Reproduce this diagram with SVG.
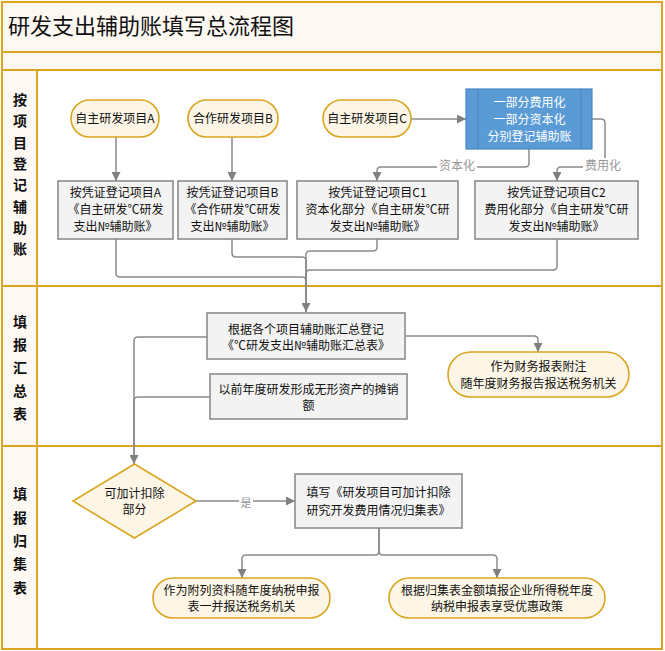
<svg xmlns="http://www.w3.org/2000/svg" width="665" height="651" viewBox="0 0 665 651">
<style>
  .frame{fill:none;stroke:#daa520;stroke-width:2}
  .cream{fill:#fdf8f2}
  .box{fill:#f3f3f3;stroke:#8c8c8c;stroke-width:1.6}
  .pill{fill:#fdf6e6;stroke:#daa520;stroke-width:1.6}
  .blue{fill:#5b9bd5;stroke:#4a86c5;stroke-width:1.2}
  .t{font-family:"Noto Sans CJK SC","Liberation Sans",sans-serif;font-size:12px;fill:#111;text-anchor:middle}
  .tw{font-family:"Noto Sans CJK SC","Liberation Sans",sans-serif;font-size:12px;fill:#fff;text-anchor:middle}
  .lane{font-family:"Noto Sans CJK SC","Liberation Sans",sans-serif;font-size:14px;font-weight:bold;fill:#111;text-anchor:middle}
  .title{font-family:"Noto Sans CJK SC","Liberation Sans",sans-serif;font-size:22px;fill:#111}
  .lbl{font-family:"Noto Sans CJK SC","Liberation Sans",sans-serif;font-size:12px;fill:#999;text-anchor:middle}
  .c{fill:none;stroke:#8a8a8a;stroke-width:1.5}
</style>
<defs>
  <marker id="arr" viewBox="0 0 10 10" refX="10" refY="5" markerWidth="9" markerHeight="9" markerUnits="userSpaceOnUse" orient="auto">
    <path d="M0,0 L10,5 L0,10 z" fill="#808080"/>
  </marker>
</defs>

<!-- background / swimlanes -->
<g id="lanes">
  <rect x="0" y="0" width="665" height="651" fill="#fff"/>
  <rect class="cream" x="2" y="2" width="660" height="68"/>
  <rect class="cream" x="2" y="70" width="35" height="579"/>
  <rect class="frame" x="2" y="2" width="660" height="647"/>
  <line class="frame" x1="2" y1="52" x2="662" y2="52"/>
  <line class="frame" x1="2" y1="70" x2="662" y2="70"/>
  <line class="frame" x1="2" y1="286" x2="662" y2="286"/>
  <line class="frame" x1="2" y1="446" x2="662" y2="446"/>
  <line class="frame" x1="37" y1="70" x2="37" y2="649"/>
  <text class="title" x="8" y="34">研发支出辅助账填写总流程图</text>
  <text class="lane" x="20"><tspan x="20" y="105">按</tspan><tspan x="20" y="126.3">项</tspan><tspan x="20" y="147.6">目</tspan><tspan x="20" y="168.9">登</tspan><tspan x="20" y="190.2">记</tspan><tspan x="20" y="211.5">辅</tspan><tspan x="20" y="232.8">助</tspan><tspan x="20" y="254.1">账</tspan></text>
  <text class="lane" x="20"><tspan x="20" y="327">填</tspan><tspan x="20" y="350">报</tspan><tspan x="20" y="373">汇</tspan><tspan x="20" y="396">总</tspan><tspan x="20" y="419">表</tspan></text>
  <text class="lane" x="20"><tspan x="20" y="499">填</tspan><tspan x="20" y="523">报</tspan><tspan x="20" y="546">归</tspan><tspan x="20" y="569">集</tspan><tspan x="20" y="593">表</tspan></text>
</g>

<!-- connectors -->
<g id="connectors">
  <path class="c" d="M116,137 V181" marker-end="url(#arr)"/>
  <path class="c" d="M232,137 V181" marker-end="url(#arr)"/>
  <path class="c" d="M411,119 H466" marker-end="url(#arr)"/>
  <path class="c" d="M529,149 V163 Q529,167 525,167 H381 Q377,167 377,171 V181" marker-end="url(#arr)"/>
  <path class="c" d="M592,119 H601 Q605,119 605,123 V163 Q605,167 601,167 H561 Q557,167 557,171 V181" marker-end="url(#arr)"/>
  <rect x="437" y="158" width="40" height="16" fill="#fff"/>
  <text class="lbl" x="457" y="170">资本化</text>
  <rect x="583" y="158" width="40" height="16" fill="#fff"/>
  <text class="lbl" x="603" y="170">费用化</text>
  <path class="c" d="M116,239 V273 Q116,277 120,277 H302 Q306,277 306,281 V312"/>
  <path class="c" d="M232,239 V253 Q232,257 236,257 H302 Q306,257 306,261 V312"/>
  <path class="c" d="M557,239 V266 Q557,270 553,270 H310 Q306,270 306,274 V312"/>
  <path class="c" d="M377,239 V247 Q377,251 373,251 H310 Q306,251 306,255 V312" marker-end="url(#arr)"/>
  <path class="c" d="M405,336 H534 Q538,336 538,340 V352" marker-end="url(#arr)"/>
  <path class="c" d="M207,337 H138 Q134,337 134,341 V464"/>
  <path class="c" d="M210,397 H138 Q134,397 134,401 V464" marker-end="url(#arr)"/>
  <path class="c" d="M196,501 H295" marker-end="url(#arr)"/>
  <rect x="239" y="495" width="14" height="14" fill="#fff"/>
  <text class="lbl" x="246" y="507" style="font-size:11px">是</text>
  <path class="c" d="M379,528 V551 Q379,555 375,555 H246 Q242,555 242,559 V578" marker-end="url(#arr)"/>
  <path class="c" d="M379,528 V551 Q379,555 383,555 H493 Q497,555 497,559 V578" marker-end="url(#arr)"/>
</g>

<!-- nodes -->
<g id="start-a">
  <rect class="pill" x="71" y="100" width="88" height="37" rx="18.5"/>
  <text class="t" x="115" y="123">自主研发项目A</text>
</g>
<g id="start-b">
  <rect class="pill" x="188" y="100" width="90" height="37" rx="18.5"/>
  <text class="t" x="233" y="123">合作研发项目B</text>
</g>
<g id="start-c">
  <rect class="pill" x="323" y="100" width="88" height="37" rx="18.5"/>
  <text class="t" x="367" y="123">自主研发项目C</text>
</g>
<g id="split-c">
  <rect class="blue" x="466" y="89" width="126" height="60"/>
  <line x1="478" y1="89" x2="478" y2="149" stroke="#4a86c5" stroke-width="1.2"/>
  <line x1="581" y1="89" x2="581" y2="149" stroke="#4a86c5" stroke-width="1.2"/>
  <text class="tw" x="529.5" y="107">一部分费用化</text>
  <text class="tw" x="529.5" y="124">一部分资本化</text>
  <text class="tw" x="529.5" y="141">分别登记辅助账</text>
</g>
<g id="box-a">
  <rect class="box" x="58" y="181" width="115" height="58"/>
  <text class="t" x="115.5" y="197">按凭证登记项目A</text>
  <text class="t" x="115.5" y="214">《自主研发℃研发</text>
  <text class="t" x="115.5" y="231">支出№辅助账》</text>
</g>
<g id="box-b">
  <rect class="box" x="178" y="181" width="109" height="58"/>
  <text class="t" x="232.5" y="197">按凭证登记项目B</text>
  <text class="t" x="232.5" y="214">《合作研发℃研发</text>
  <text class="t" x="232.5" y="231">支出№辅助账》</text>
</g>
<g id="box-c1">
  <rect class="box" x="297" y="181" width="161" height="58"/>
  <text class="t" x="377.5" y="197">按凭证登记项目C1</text>
  <text class="t" x="377.5" y="214">资本化部分《自主研发℃研</text>
  <text class="t" x="377.5" y="231">发支出№辅助账》</text>
</g>
<g id="box-c2">
  <rect class="box" x="475" y="181" width="163" height="58"/>
  <text class="t" x="556.5" y="197">按凭证登记项目C2</text>
  <text class="t" x="556.5" y="214">费用化部分《自主研发℃研</text>
  <text class="t" x="556.5" y="231">发支出№辅助账》</text>
</g>
<g id="summary">
  <rect class="box" x="207" y="313" width="198" height="46"/>
  <text class="t" x="306" y="334">根据各个项目辅助账汇总登记</text>
  <text class="t" x="306" y="350">《℃研发支出№辅助账汇总表》</text>
</g>
<g id="amortization">
  <rect class="box" x="210" y="374" width="197" height="45"/>
  <text class="t" x="308.5" y="394">以前年度研发形成无形资产的摊销</text>
  <text class="t" x="308.5" y="410">额</text>
</g>
<g id="note">
  <rect class="pill" x="448" y="352" width="181" height="45" rx="22.5"/>
  <text class="t" x="538.5" y="371">作为财务报表附注</text>
  <text class="t" x="538.5" y="388">随年度财务报告报送税务机关</text>
</g>
<g id="decision">
  <polygon class="pill" points="134.5,464 196,501 134.5,538 73,501"/>
  <text class="t" x="134.5" y="498">可加计扣除</text>
  <text class="t" x="134.5" y="514">部分</text>
</g>
<g id="collect">
  <rect class="box" x="295" y="474" width="167" height="54"/>
  <text class="t" x="378.5" y="497">填写《研发项目可加计扣除</text>
  <text class="t" x="378.5" y="515">研究开发费用情况归集表》</text>
</g>
<g id="attach">
  <rect class="pill" x="153" y="578" width="177" height="40" rx="20"/>
  <text class="t" x="241.5" y="595">作为附列资料随年度纳税申报</text>
  <text class="t" x="241.5" y="611">表一并报送税务机关</text>
</g>
<g id="declare">
  <rect class="pill" x="389" y="578" width="216" height="40" rx="20"/>
  <text class="t" x="497" y="595">根据归集表金额填报企业所得税年度</text>
  <text class="t" x="497" y="611">纳税申报表享受优惠政策</text>
</g>
</svg>
